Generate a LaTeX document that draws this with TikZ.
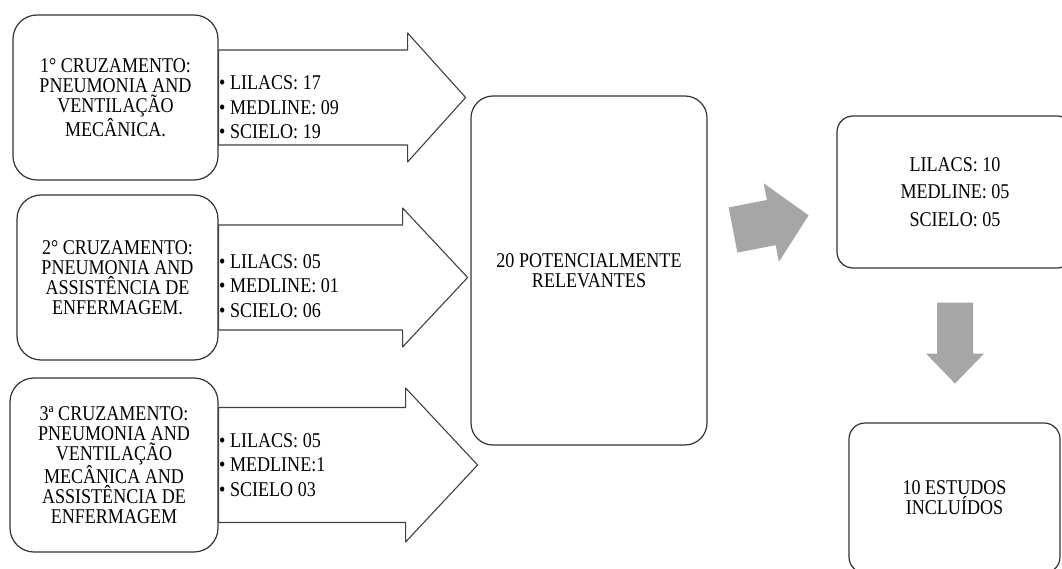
\documentclass[tikz,border=0pt]{standalone}
\usepackage{fontspec}
\setmainfont{Liberation Serif}[FakeStretch=0.86]
\begin{document}
\begin{tikzpicture}[x=1pt,y=-1pt,line join=round,font=\fontsize{21}{20}\selectfont,
	caixa/.style={draw=black!80,line width=1.2pt,align=center,inner sep=0pt},
	seta/.style={draw=black!75,line width=1.1pt},
	lista/.style={anchor=west,align=left,inner sep=0pt,font=\fontsize{21}{24.5}\selectfont},
	cinza/.style={fill=black!35}]
	\clip (0,0) rectangle (1062,569);
	% cruzamentos
	\node[caixa,rounded corners=24pt,minimum width=205pt,minimum height=165pt] (cruz1) at (115.5,97.5) {1° CRUZAMENTO:\\PNEUMONIA AND\\VENTILAÇÃO\\MECÂNICA.};
	\node[caixa,rounded corners=24pt,minimum width=201pt,minimum height=165pt] (cruz2) at (117.5,277.5) {2° CRUZAMENTO:\\PNEUMONIA AND\\ASSISTÊNCIA DE\\ENFERMAGEM.};
	\node[caixa,rounded corners=24pt,minimum width=208pt,minimum height=174pt] (cruz3) at (114,465) {3ª CRUZAMENTO:\\PNEUMONIA AND\\VENTILAÇÃO\\MECÂNICA AND\\ASSISTÊNCIA DE\\ENFERMAGEM};
	% setas
	\draw[seta] (cruz1.east) ++(0,-47.5) -- ++(189,0) -- ++(0,-17) -- ++(58,64.5) -- ++(-58,64.5) -- ++(0,-17) -- ++(-189,0) -- cycle;
	\draw[seta] (cruz2.east) ++(0,-52.5) -- ++(184,0) -- ++(0,-17) -- ++(65,69.5) -- ++(-65,69.5) -- ++(0,-17) -- ++(-184,0) -- cycle;
	\draw[seta] (cruz3.east) ++(0,-57.5) -- ++(187,0) -- ++(0,-19.5) -- ++(72,77) -- ++(-72,77) -- ++(0,-19.5) -- ++(-187,0) -- cycle;
	\node[lista] (lista1) at (219,107.5) {• LILACS: 17\\• MEDLINE: 09\\• SCIELO: 19};
	\node[lista] (lista2) at (219,286) {• LILACS: 05\\• MEDLINE: 01\\• SCIELO: 06};
	\node[lista] (lista3) at (219,465) {• LILACS: 05\\• MEDLINE:1\\• SCIELO 03};
	% resultados
	\node[caixa,rounded corners=22pt,minimum width=236pt,minimum height=349pt] (relev) at (589,270.5) {20 POTENCIALMENTE\\RELEVANTES};
	\node[caixa,rounded corners=16pt,minimum width=236pt,minimum height=152pt,font=\fontsize{21}{27.5}\selectfont] (bases) at (955,192) {LILACS: 10\\MEDLINE: 05\\SCIELO: 05};
	\node[caixa,rounded corners=16pt,minimum width=211pt,minimum height=150pt] (incl) at (954.5,498) {10 ESTUDOS\\INCLUÍDOS};
	% setas cinza
	\begin{scope}[shift={(733,230)},rotate=11]
		\fill[cinza] (0,-23) -- (39,-23) -- (39,-40) -- (77,0) -- (39,40) -- (39,23) -- (0,23) -- cycle;
	\end{scope}
	\fill[cinza] (bases.south) ++(-18,34) -- ++(36,0) -- ++(0,51) -- ++(11,0) -- ++(-29,30) -- ++(-29,-30) -- ++(11,0) -- cycle;
\end{tikzpicture}
\end{document}
